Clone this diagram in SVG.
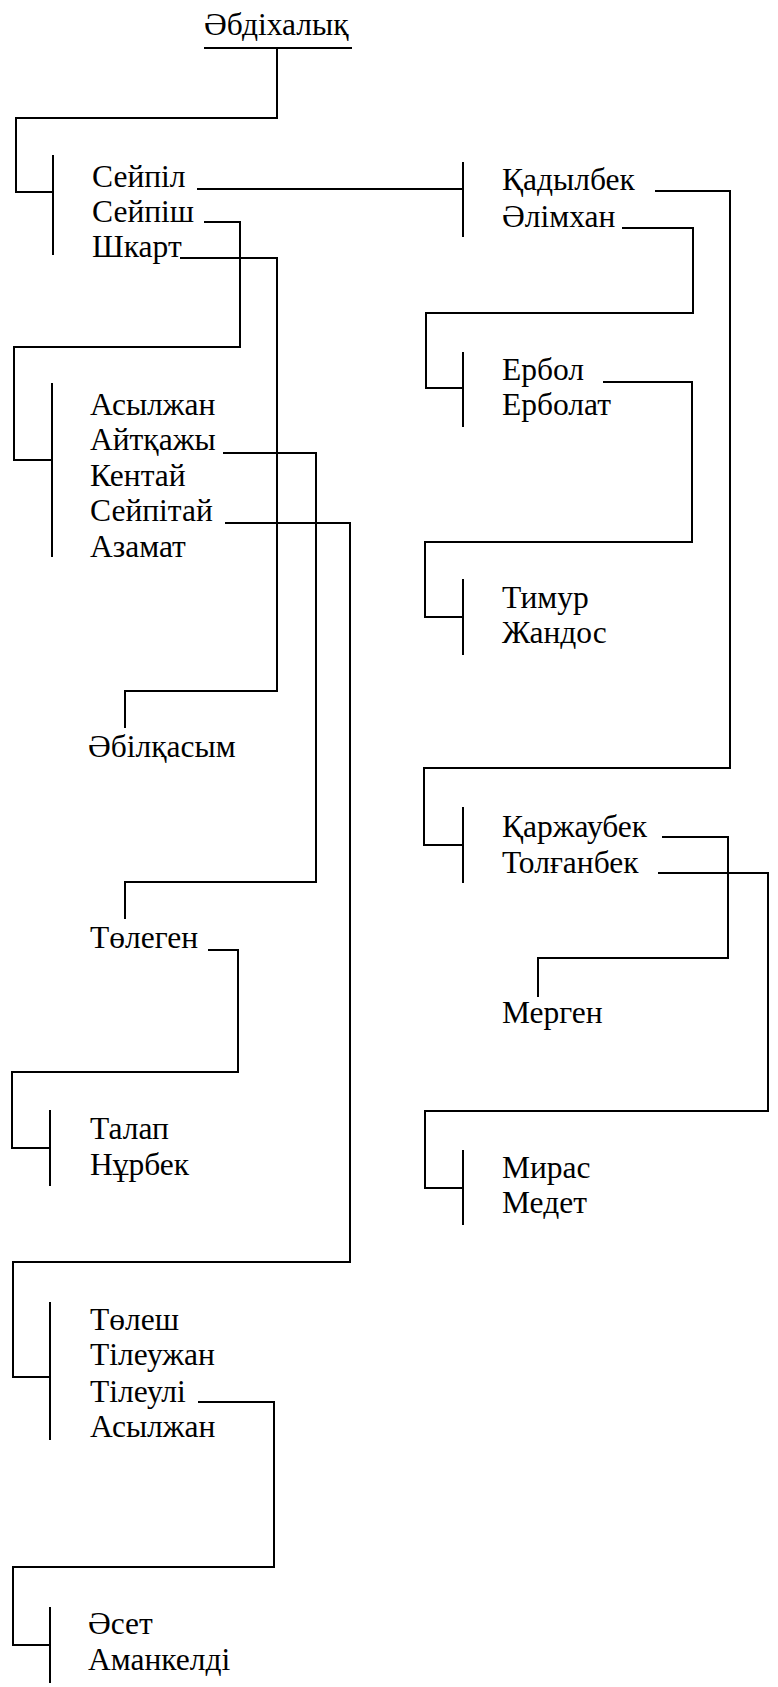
<svg xmlns="http://www.w3.org/2000/svg" width="778" height="1687" viewBox="0 0 778 1687">
<style>
text{font-family:"Liberation Serif","Times New Roman",serif;font-size:31.5px;fill:#000}
.c path{fill:none;stroke:#000;stroke-width:2}
</style>
<rect width="778" height="1687" fill="#fff"/>
<g class="c" id="connectors">
<path d="M204,48 H352"/>
<path d="M277,48 V118 H16 V192 H53"/>
<path d="M53,155 V255"/>
<path d="M197,189 H463"/>
<path d="M463,162 V237"/>
<path d="M655,191 H730 V768 H424 V845 H463"/>
<path d="M463,807 V883"/>
<path d="M622,228 H693 V313 H426 V388 H463"/>
<path d="M463,352 V427"/>
<path d="M603,382 H692 V542 H425 V617 H463"/>
<path d="M463,579 V655"/>
<path d="M662,837 H728 V958 H538 V997"/>
<path d="M658,873 H768 V1111 H425 V1188 H463"/>
<path d="M463,1150 V1225"/>
<path d="M204,222 H240 V347 H14 V460 H52"/>
<path d="M52,383 V557"/>
<path d="M180,258 H277 V691 H125 V728"/>
<path d="M223,453 H316 V882 H125 V919"/>
<path d="M225,523 H350 V1262 H13 V1377 H50"/>
<path d="M50,1302 V1440"/>
<path d="M208,950 H238 V1072 H12 V1148 H50"/>
<path d="M50,1110 V1186"/>
<path d="M198,1402 H274 V1567 H13 V1645 H50"/>
<path d="M50,1607 V1683"/>
</g>
<g id="n-abdikhalyk"><text x="204" y="35">Әбдіхалық</text></g>
<g id="n-seypil"><text x="92" y="187">Сейпіл</text></g>
<g id="n-seypish"><text x="92" y="222">Сейпіш</text></g>
<g id="n-shkart"><text x="92" y="257">Шкарт</text></g>
<g id="n-kadylbek"><text x="502" y="190">Қадылбек</text></g>
<g id="n-alimkhan"><text x="502" y="227">Әлімхан</text></g>
<g id="n-erbol"><text x="502" y="380">Ербол</text></g>
<g id="n-erbolat"><text x="502" y="415">Ерболат</text></g>
<g id="n-timur"><text x="502" y="608">Тимур</text></g>
<g id="n-zhandos"><text x="502" y="643">Жандос</text></g>
<g id="n-karzhaubek"><text x="502" y="837">Қаржаубек</text></g>
<g id="n-tolganbek"><text x="502" y="873">Толғанбек</text></g>
<g id="n-mergen"><text x="502" y="1023">Мерген</text></g>
<g id="n-miras"><text x="502" y="1178">Мирас</text></g>
<g id="n-medet"><text x="502" y="1213">Медет</text></g>
<g id="n-asylzhan1"><text x="90" y="415">Асылжан</text></g>
<g id="n-aytkazhy"><text x="90" y="450">Айтқажы</text></g>
<g id="n-kentay"><text x="90" y="486">Кентай</text></g>
<g id="n-seypitay"><text x="90" y="521">Сейпітай</text></g>
<g id="n-azamat"><text x="90" y="557">Азамат</text></g>
<g id="n-abilkasym"><text x="88" y="757">Әбілқасым</text></g>
<g id="n-tolegen"><text x="90" y="948">Төлеген</text></g>
<g id="n-talap"><text x="90" y="1139">Талап</text></g>
<g id="n-nurbek"><text x="90" y="1175">Нұрбек</text></g>
<g id="n-tolesh"><text x="90" y="1330">Төлеш</text></g>
<g id="n-tileuzhan"><text x="90" y="1365">Тілеужан</text></g>
<g id="n-tileuli"><text x="90" y="1402">Тілеулі</text></g>
<g id="n-asylzhan2"><text x="90" y="1437">Асылжан</text></g>
<g id="n-aset"><text x="88" y="1634">Әсет</text></g>
<g id="n-amankeldi"><text x="88" y="1670">Аманкелді</text></g>
</svg>
